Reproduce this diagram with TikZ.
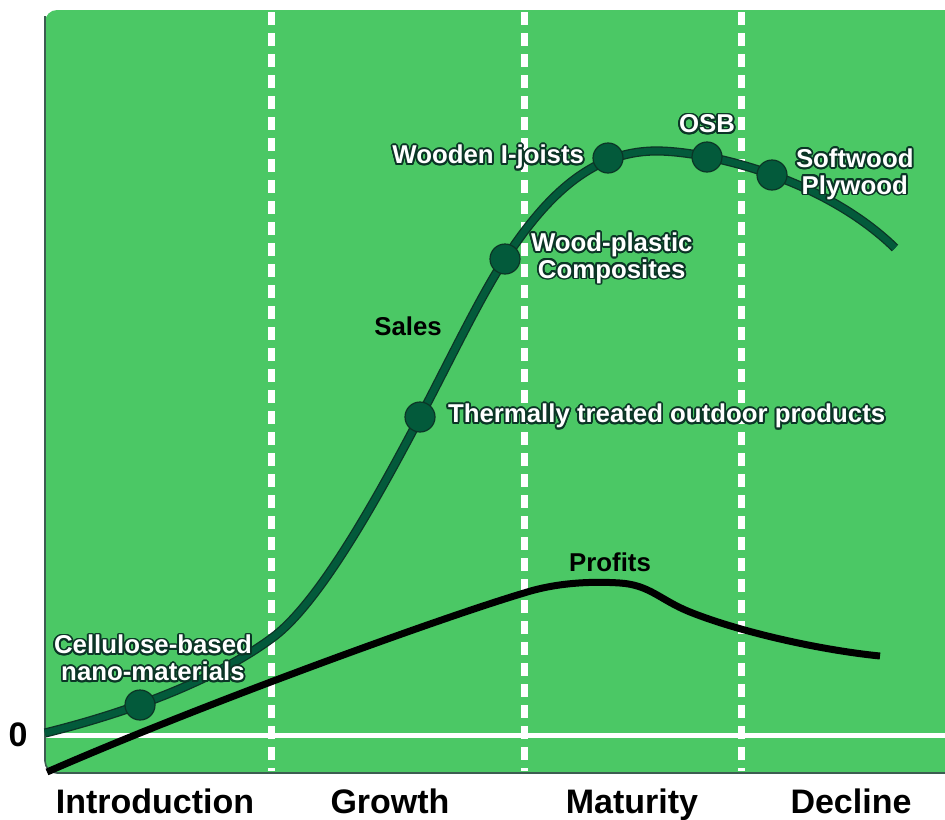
\documentclass[tikz,border=0pt]{standalone}
\usepackage{fontspec}
\setmainfont{Liberation Sans}
\usepackage{contour}
\contourlength{0.9pt}
\usetikzlibrary{positioning}
\definecolor{bggreen}{HTML}{4BC865}
\definecolor{salesgreen}{HTML}{035A3B}
\definecolor{darkline}{HTML}{0B3526}
\tikzset{
  dot/.style={circle, fill=salesgreen, draw=darkline, line width=0.6pt, minimum size=15pt, inner sep=0pt},
  lbl/.style={text=white, font=\bfseries\fontsize{12.9}{13.4}\selectfont, align=center, inner sep=1pt},
  curvelbl/.style={font=\bfseries\fontsize{12.9}{13.4}\selectfont, inner sep=1pt},
  stage/.style={font=\bfseries\fontsize{17}{18}\selectfont, anchor=base},
  divider/.style={white, line width=3.5pt, dash pattern=on 6.5pt off 4pt},
}
\newcommand{\salescurve}{(45,733) .. controls (130,712) and (215,680) .. (272,638)
        .. controls (320,603) and (380,493) .. (420,417)
        .. controls (450,360) and (480,297) .. (505,259)
        .. controls (545,198) and (590,152) .. (654,151)
        .. controls (700,150) and (820,175) .. (895,248)}
\begin{document}
\begin{tikzpicture}[x=0.5pt, y=-0.5pt]
      \useasboundingbox (0,0) rectangle (945,819);
      \begin{scope}
        \clip (0,0) rectangle (945,819);
        \fill[bggreen, rounded corners=6pt] (45,10) rectangle (970,773);
        \draw[darkline!80, line width=0.8pt, rounded corners=6pt] (45,16) -- (45,773) -- (970,773);
      \end{scope}

      \draw[white, line width=2.5pt] (46,735)--(945,735);
      \foreach \x in {271,524,741}
        \draw[divider] (\x,12)--(\x,771);

      \draw[black, line width=3.5pt] (47,772) .. controls (200,705) and (440,618) .. (524,593)
        .. controls (555,583) and (590,581) .. (620,583)
        .. controls (650,585) and (660,600) .. (690,612)
        .. controls (740,632) and (820,650) .. (880,656);

      \draw[darkline, line width=4.6pt] \salescurve;
      \draw[salesgreen, line width=3.3pt] \salescurve;

      \node[dot] (cnm) at (140,705) {};
      \node[dot] (tt) at (420,417) {};
      \node[dot] (wpc) at (505,259) {};
      \node[dot] (wij) at (608,158) {};
      \node[dot] (osb) at (707,157) {};
      \node[dot] (swp) at (772,175) {};

      \node[lbl] (cnmlbl) at (153,659) {\contour{darkline}{Cellulose-based}\\\contour{darkline}{nano-materials}};
      \node[lbl, right=5pt of tt] (ttlbl) {\contour{darkline}{Thermally treated outdoor products}};
      \node[lbl, right=4pt of wpc] (wpclbl) {\contour{darkline}{Wood-plastic}\\\contour{darkline}{Composites}};
      \node[lbl, left=3pt of wij] (wijlbl) {\contour{darkline}{Wooden I-joists}};
      \node[lbl, above=2pt of osb] (osblbl) {\contour{darkline}{OSB}};
      \node[lbl, right=3pt of swp] (swplbl) {\contour{darkline}{Softwood}\\\contour{darkline}{Plywood}};

      \node[curvelbl] (sales) at (408,326) {Sales};
      \node[curvelbl] (profits) at (610,562) {Profits};
      \node[stage, anchor=center] (zero) at (18,735) {0};

      \node[stage] (intro) at (155,813) {Introduction};
      \node[stage] (growth) at (390,813) {Growth};
      \node[stage] (maturity) at (632,813) {Maturity};
      \node[stage] (decline) at (851,813) {Decline};
    \end{tikzpicture}
\end{document}
